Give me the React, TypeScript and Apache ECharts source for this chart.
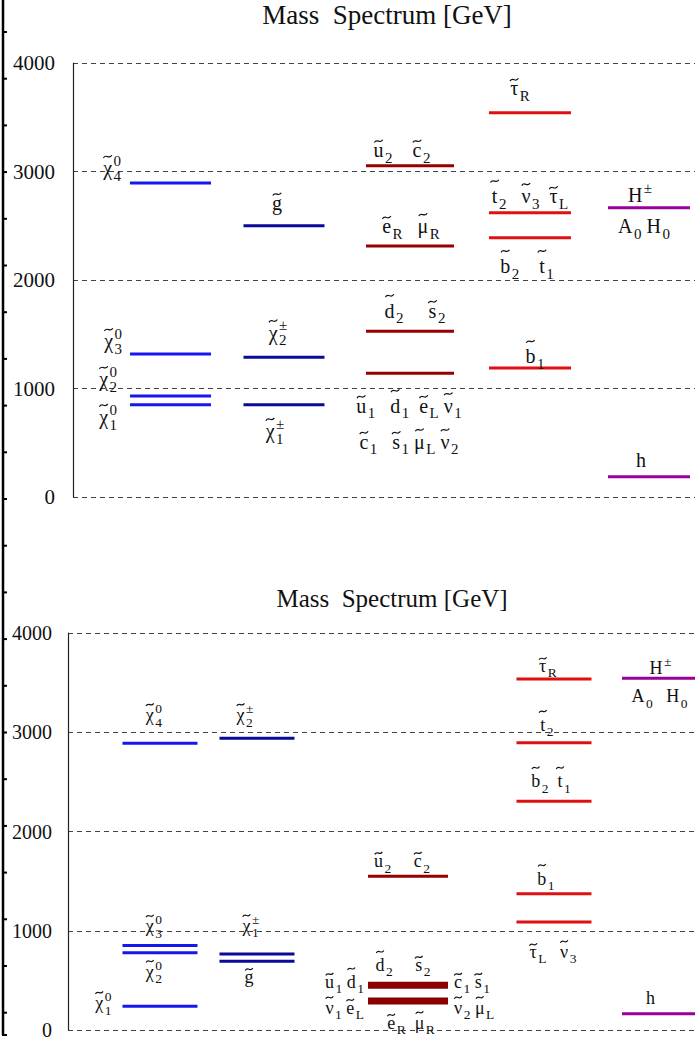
import React, { useEffect, useRef } from 'react';
import * as echarts from 'echarts';

const FONT_FAMILY = 'Liberation Serif';
const TITLE = 'Mass  Spectrum [GeV]';
const Y_MIN = 0;
const Y_MAX = 4000;
const Y_STEP = 1000;

// ---------------- top panel data ----------------
const topLevelNames = ['chi0_4', 'chi0_3', 'chi0_2', 'chi0_1', 'gluino', 'chipm_2', 'chipm_1', 'u2_c2', 'eR_muR', 'd2_s2', 'q1_lL', 'tauR', 't2_nu3_tauL', 'b2_t1', 'b1', 'Hpm_A0_H0', 'h'];
const topMasses = [2894, 1318, 931, 851, 2500, 1287, 851, 3053, 2313, 1527, 1140, 3542, 2620, 2390, 1189, 2666, 187];
const topLevelColumn = [0, 0, 0, 0, 1, 1, 1, 2, 2, 2, 2, 3, 3, 3, 3, 4, 4];
const topLabelTexts = [
  '~χ^0_4', '~χ^0_3', '~χ^0_2', '~χ^0_1',
  '~g', '~χ^±_2', '~χ^±_1',
  '~u_2    ~c_2', '~e_R   ~μ_R', '~d_2     ~s_2',
  '~u_1   ~d_1  ~e_L ~ν_1', '~c_1   ~s_1 ~μ_L ~ν_2',
  '~τ_R', '~t_2   ~ν_3  ~τ_L', '~b_2    ~t_1', '~b_1',
  'H^±', 'A_0 H_0', 'h',
];
const topLabelLevel = [0, 1, 2, 3, 4, 5, 6, 7, 8, 9, 10, 10, 11, 12, 13, 14, 15, 15, 16];

// ---------------- bottom panel data ----------------
const bottomLevelNames = ['chi0_4', 'chi0_3', 'chi0_2', 'chi0_1', 'chipm_2', 'chipm_1', 'gluino', 'u2_c2', 'd2_s2_u1_d1_c1_s1', 'eR_muR_nu1_eL_nu2_muL', 'tauR', 't2', 'b2_t1', 'b1', 'tauL_nu3', 'Hpm_A0_H0', 'h'];
const bottomMasses = [2890, 851, 778, 240, 2940, 765, 692, 1550, 452, 292, 3536, 2894, 2305, 1373, 1088, 3543, 163];
const bottomLevelColumn = [0, 0, 0, 0, 1, 1, 1, 2, 2, 2, 3, 3, 3, 3, 3, 4, 4];
const bottomLabelTexts = [
  '~χ^0_4', '~χ^0_3', '~χ^0_2', '~χ^0_1',
  '~χ^±_2', '~χ^±_1', '~g',
  '~u_2     ~c_2', '~d_2     ~s_2', '~u_1 ~d_1', '~c_1 ~s_1',
  '~ν_1 ~e_L', '~e_R  ~μ_R', '~ν_2 ~μ_L',
  '~τ_R', '~t_2', '~b_2  ~t_1', '~b_1', '~τ_L   ~ν_3',
  'H^±', 'A_0   H_0', 'h',
];
const bottomLabelLevel = [0, 1, 2, 3, 4, 5, 6, 7, 8, 8, 8, 9, 9, 9, 10, 11, 12, 13, 14, 15, 15, 16];

// ---------------- layout / style ----------------
const columnColors = ['#1616f0', '#0a0a98', '#980000', '#e01010', '#980098'];

type Place = [string, number, number]; // align (c | r | l), dx or gap, baseline offset

const topPanel = {
  gridTop: 63, gridHeight: 434, gridLeft: 73, gridWidth: 622,
  columnX: [15.68, 33.92, 54.18, 73.47, 92.6],
  halfWidth: [40.5, 40.5, 44, 41, 41],
  fs: 20, sfs: 15, tickFs: 21, titleFs: 27, titleX: 387, titleCenterY: 14.5, labelMargin: 18,
  thick: [] as number[],
  labelPlace: [
    ['r', 9, -8], ['r', 8, -6], ['r', 13, -10], ['r', 13, 19],
    ['c', -7, -16], ['c', -6, -18], ['c', -9, 33],
    ['c', -8, -9], ['c', 1, -13], ['c', 5, -14],
    ['c', -1, 39], ['c', -1, 75],
    ['c', -10, -18], ['c', 0, -10], ['c', -3, 35], ['c', 5, -5],
    ['c', -9, -6], ['c', -5, 25], ['c', -8, -10],
  ] as Place[],
  masses: topMasses, levelColumn: topLevelColumn, labelTexts: topLabelTexts, labelLevel: topLabelLevel,
};

const bottomPanel = {
  gridTop: 633, gridHeight: 401, gridLeft: 68, gridWidth: 627,
  columnX: [14.67, 30.14, 54.23, 77.51, 94.34],
  halfWidth: [37.5, 37.5, 40, 37.5, 37.5],
  fs: 18, sfs: 13.5, tickFs: 20, titleFs: 25, titleX: 392, titleCenterY: 598.5, labelMargin: 16,
  thick: [8, 9],
  labelPlace: [
    ['c', -6, -22], ['c', -6, -13], ['c', -6, 25], ['r', 11, 3],
    ['c', -12, -17], ['c', -6, -22], ['c', -8, 22],
    ['c', -6, -9], ['c', -5, -14], ['r', 4, 3], ['l', 6, 3],
    ['r', 4, 13], ['c', 3, 28], ['l', 6, 13],
    ['c', -6, -7], ['c', -7, -12], ['c', -3, -14], ['c', -8, -9], ['c', -1, 36],
    ['c', 1, -4], ['c', 0, 24], ['c', -9, -10],
  ] as Place[],
  masses: bottomMasses, levelColumn: bottomLevelColumn, labelTexts: bottomLabelTexts, labelLevel: bottomLabelLevel,
};

const panels = [topPanel, bottomPanel];

// ---------------- text layout helpers ----------------
let measureCtx: CanvasRenderingContext2D | null = null;
function textWidth(t: string, size: number): number {
  if (!measureCtx) measureCtx = document.createElement('canvas').getContext('2d');
  if (!measureCtx) return t.length * size * 0.5;
  measureCtx.font = `${size}px "${FONT_FAMILY}"`;
  return measureCtx.measureText(t).width;
}

// how high the tilde accent sits above the baseline, in em of the base font
function tildeRaise(ch: string): number {
  if (ch === 'b' || ch === 'd' || ch === 't') return 1.08;
  if (ch === 'χ' || ch === 'μ' || ch === 'ν') return 0.92;
  if (ch === 'τ') return 0.75;
  return 0.78;
}

type Part = { kind: 'text' | 'tilde'; text: string; x: number; y: number; size: number };
function layoutLabel(spec: string, fs: number, sfs: number) {
  const chars = Array.from(spec);
  const parts: Part[] = [];
  let cur = 0;
  let baseEnd = 0;
  let scriptW = 0;
  let tilde = false;
  const gap = 1.5;
  for (let i = 0; i < chars.length; i++) {
    const ch = chars[i];
    if (ch === '~') { tilde = true; continue; }
    if (ch === '^' || ch === '_') {
      const v = chars[++i];
      const w = textWidth(v, sfs);
      parts.push({ kind: 'text', text: v, x: baseEnd + gap, y: ch === '^' ? -0.45 * fs : 0.3 * fs, size: sfs });
      scriptW = Math.max(scriptW, w);
      cur = baseEnd + gap + scriptW;
      continue;
    }
    if (ch === ' ') { cur += fs * 0.25; continue; }
    const w = textWidth(ch, fs);
    parts.push({ kind: 'text', text: ch, x: cur, y: 0, size: fs });
    if (tilde) {
      parts.push({ kind: 'tilde', text: '', x: cur + w / 2, y: -tildeRaise(ch) * fs, size: fs });
    }
    cur += w;
    baseEnd = cur;
    scriptW = 0;
    tilde = false;
  }
  return { parts, width: cur };
}

function buildOption() {
  const grid: any[] = [];
  const xAxis: any[] = [];
  const yAxis: any[] = [];
  const series: any[] = [];
  const title: any[] = [];

  panels.forEach((P, pi) => {
    grid.push({ left: P.gridLeft, top: P.gridTop, width: P.gridWidth, height: P.gridHeight, containLabel: false });
    xAxis.push({ type: 'value', gridIndex: pi, min: 0, max: 100, show: false });
    yAxis.push({
      type: 'value', gridIndex: pi, min: Y_MIN, max: Y_MAX, interval: Y_STEP,
      axisLine: { show: true, lineStyle: { color: '#222', width: 1.2 } },
      axisTick: { show: false },
      axisLabel: {
        fontFamily: FONT_FAMILY, fontSize: P.tickFs, color: '#111', margin: P.labelMargin,
        padding: [0, 0, 12, 0],
        formatter: (v: number) => String(v),
      },
      splitLine: { show: true, lineStyle: { color: '#444', width: 1, type: [5, 4] } },
    });
    title.push({
      text: TITLE, left: P.titleX, top: P.titleCenterY - P.titleFs / 2, textAlign: 'center', padding: 0,
      textStyle: { fontFamily: FONT_FAMILY, fontSize: P.titleFs, fontWeight: 'normal', color: '#111', lineHeight: P.titleFs },
    });

    // energy levels
    series.push({
      type: 'custom', name: `levels-${pi}`, xAxisIndex: pi, yAxisIndex: pi, silent: true,
      encode: { x: 0, y: 1 },
      data: P.masses.map((m, i) => [P.columnX[P.levelColumn[i]], m, i]),
      renderItem: (params: any, api: any) => {
        const i = api.value(2) as number;
        const col = P.levelColumn[i];
        const p = api.coord([api.value(0), api.value(1)]);
        const hw = P.halfWidth[col];
        const thick = P.thick.indexOf(i) >= 0;
        return {
          type: 'line',
          shape: { x1: p[0] - hw, y1: p[1], x2: p[0] + hw, y2: p[1] },
          style: { stroke: thick ? '#8a0000' : columnColors[col], lineWidth: thick ? 7 : 3 },
        };
      },
    });

    // particle labels
    series.push({
      type: 'custom', name: `labels-${pi}`, xAxisIndex: pi, yAxisIndex: pi, silent: true,
      encode: { x: 0, y: 1 },
      data: P.labelTexts.map((t, j) => [P.columnX[P.levelColumn[P.labelLevel[j]]], P.masses[P.labelLevel[j]], j]),
      renderItem: (params: any, api: any) => {
        const j = api.value(2) as number;
        const lvl = P.labelLevel[j];
        const col = P.levelColumn[lvl];
        const p = api.coord([api.value(0), api.value(1)]);
        const [align, off, dy] = P.labelPlace[j];
        const lay = layoutLabel(P.labelTexts[j], P.fs, P.sfs);
        let x0: number;
        if (align === 'c') x0 = p[0] + off - lay.width / 2;
        else if (align === 'r') x0 = p[0] - P.halfWidth[col] - off - lay.width;
        else x0 = p[0] + P.halfWidth[col] + off;
        const baseY = p[1] + dy;
        return {
          type: 'group',
          children: lay.parts.map((pt) => {
            if (pt.kind === 'tilde') {
              const cx = x0 + pt.x;
              const cy = baseY + pt.y;
              const w = pt.size * 0.42;
              const a = pt.size * 0.07;
              return {
                type: 'bezierCurve',
                shape: {
                  x1: cx - w / 2, y1: cy + a,
                  cpx1: cx - w / 6, cpy1: cy - 2.6 * a,
                  cpx2: cx + w / 6, cpy2: cy + 2.6 * a,
                  x2: cx + w / 2, y2: cy - a,
                },
                style: { stroke: '#111', lineWidth: 1.2, fill: 'none' },
              };
            }
            return {
              type: 'text',
              x: x0 + pt.x,
              y: baseY + pt.y - 0.3375 * pt.size,
              style: {
                text: pt.text, fontFamily: FONT_FAMILY, fontSize: pt.size, fill: '#111',
                align: 'left', verticalAlign: 'middle', textAlign: 'left', textVerticalAlign: 'middle',
              },
            };
          }),
        };
      },
    });
  });

  // outer frame on the left edge (decoration of the original figure)
  const frame: any[] = [
    { type: 'line', shape: { x1: 3, y1: 0, x2: 3, y2: 1035 }, style: { stroke: '#000', lineWidth: 2.5 } },
    { type: 'line', shape: { x1: 2, y1: 1035, x2: 7, y2: 1035 }, style: { stroke: '#000', lineWidth: 2 } },
  ];
  for (let k = 0; k < 22; k++) {
    const y = 32 + k * 46.7;
    frame.push({ type: 'line', shape: { x1: 3, y1: y, x2: 7, y2: y }, style: { stroke: '#000', lineWidth: 2 } });
  }

  return {
    animation: false,
    backgroundColor: '#ffffff',
    title,
    grid,
    xAxis,
    yAxis,
    series,
    graphic: frame,
  };
}

export default function App() {
  const ref = useRef<HTMLDivElement>(null);
  useEffect(() => {
    if (!ref.current) return;
    const chart = echarts.init(ref.current, undefined, { renderer: 'svg' });
    chart.setOption(buildOption());
    return () => chart.dispose();
  }, []);
  return (
    <div
      ref={ref}
      style={{ position: 'absolute', left: 0, top: 0, width: 695, height: 1040, background: '#fff' }}
    />
  );
}
